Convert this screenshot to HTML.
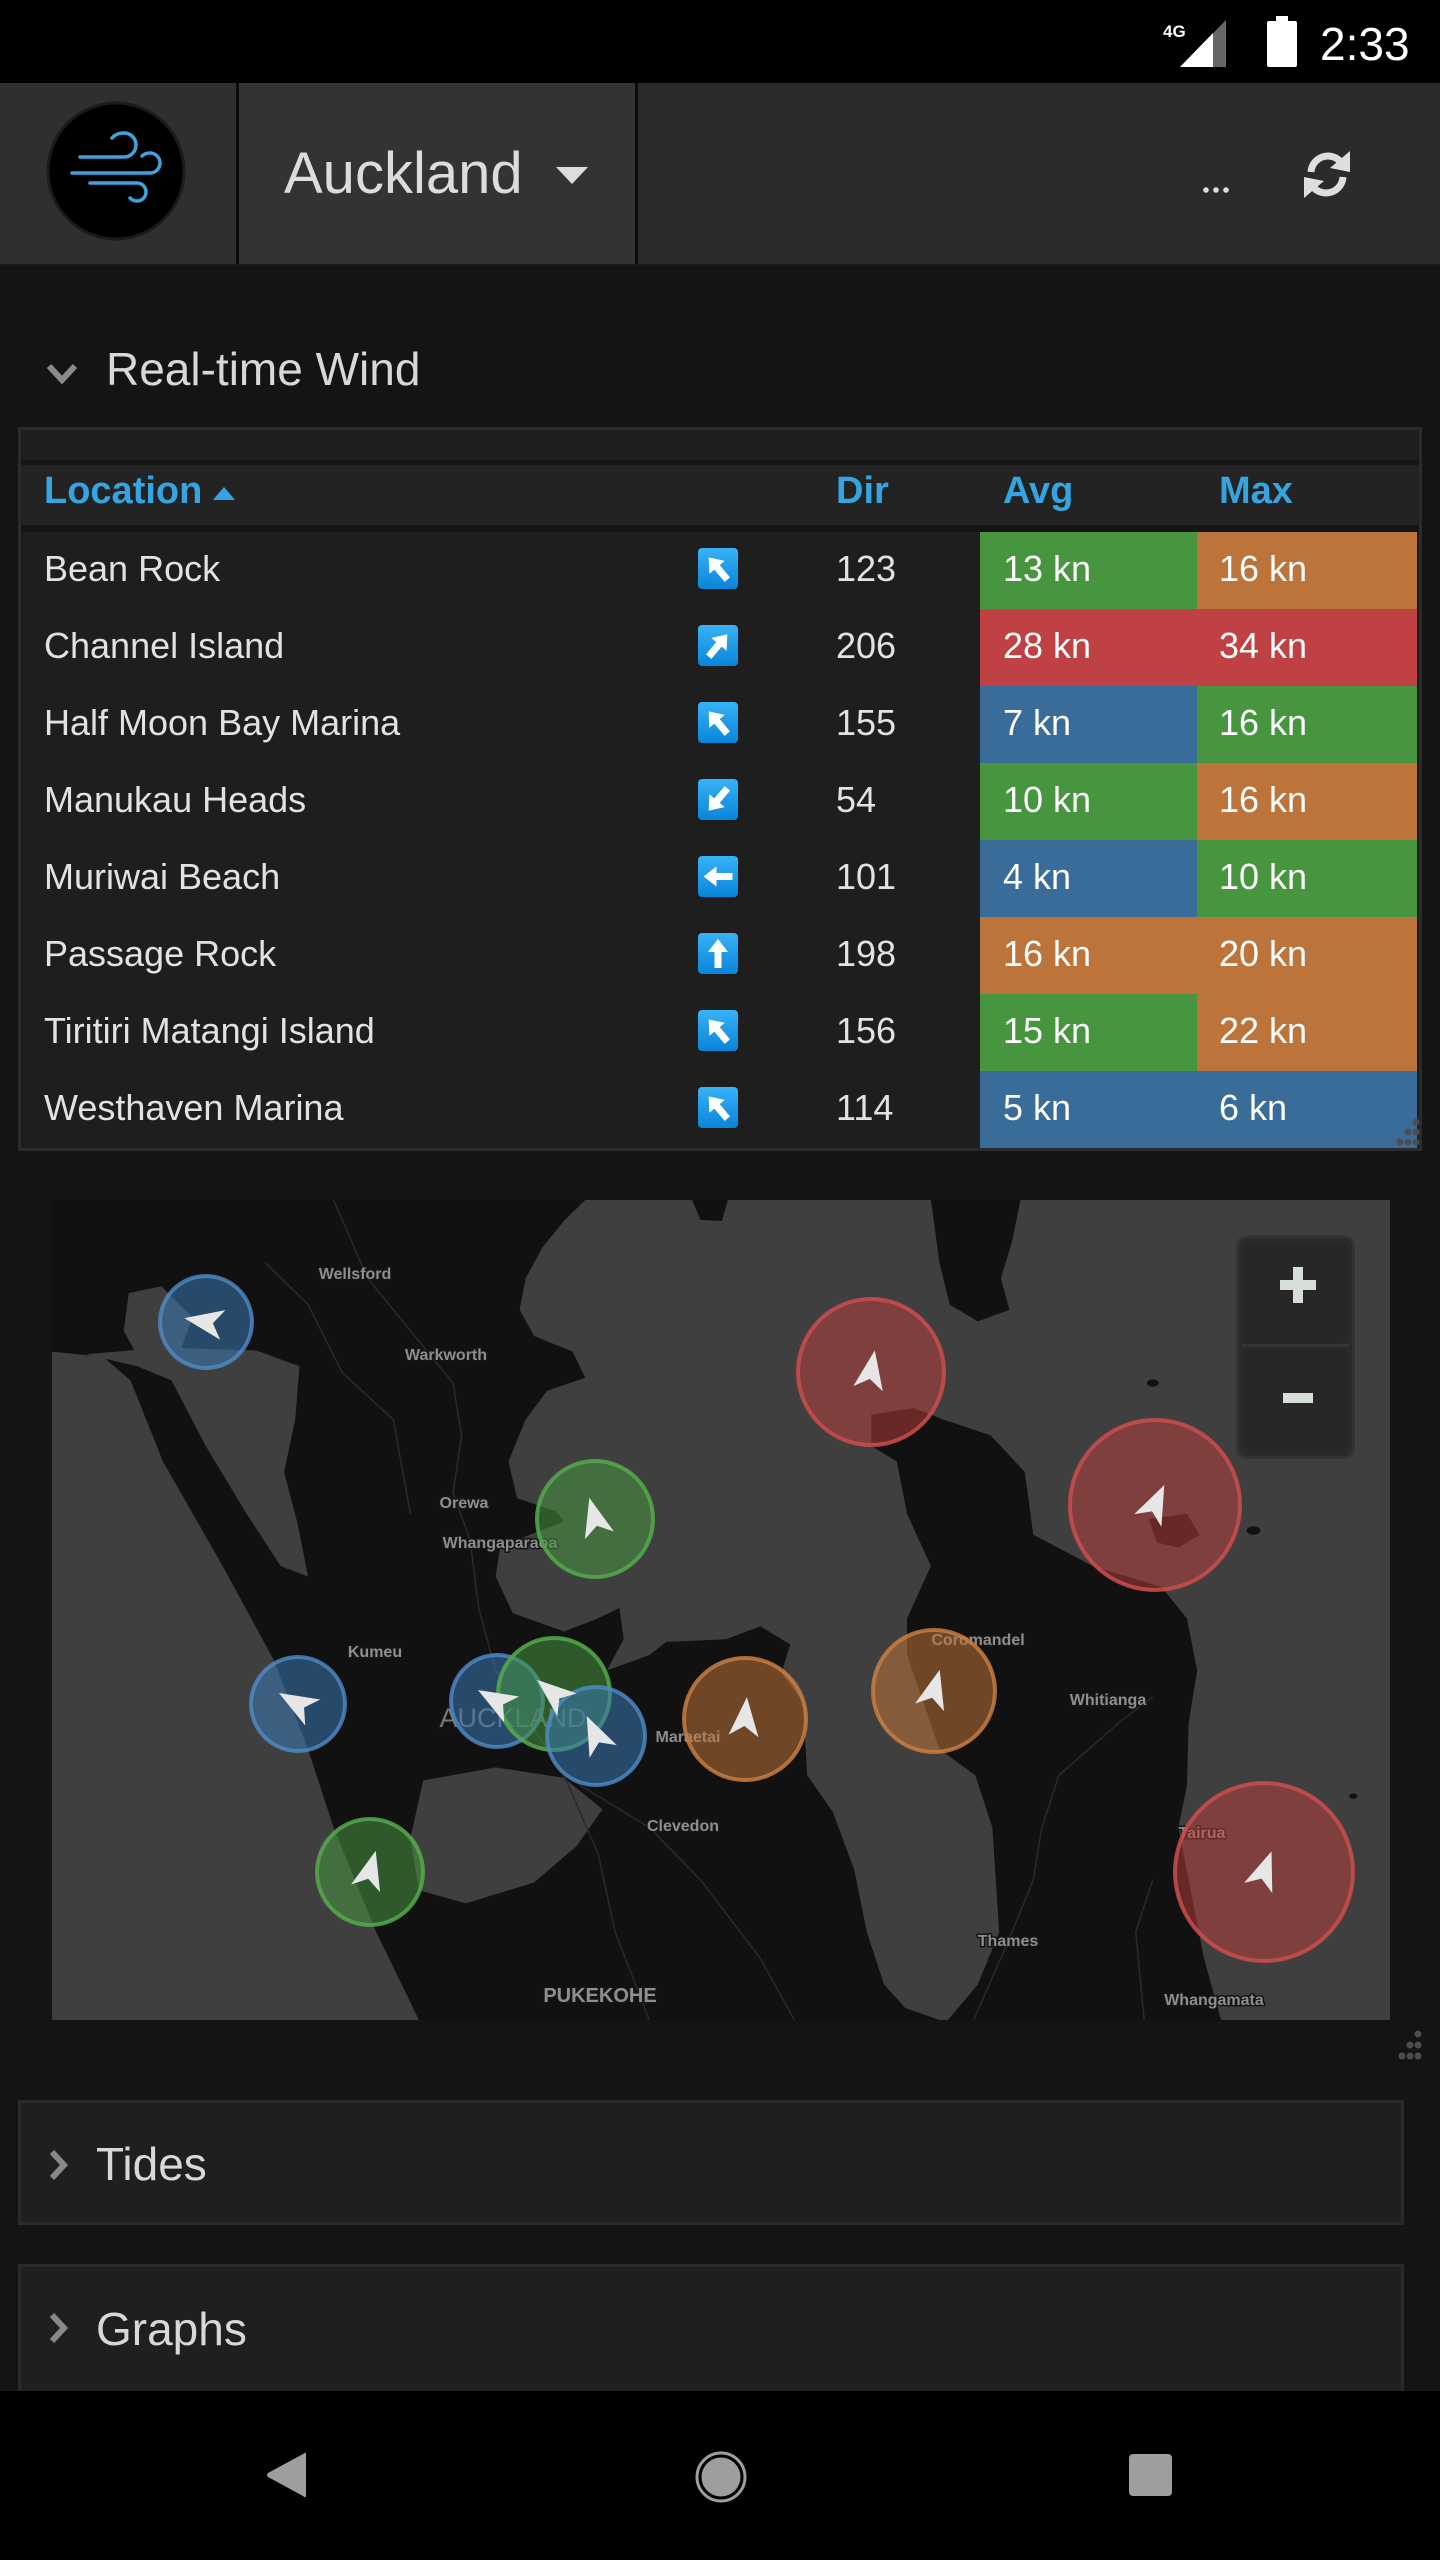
<!DOCTYPE html>
<html><head><meta charset="utf-8"><style>
html,body{margin:0;padding:0;background:#141414;}
svg{display:block;}
</style></head><body>
<svg width="1440" height="2560" viewBox="0 0 1440 2560" xmlns="http://www.w3.org/2000/svg" font-family="'Liberation Sans', sans-serif">
<defs>
<linearGradient id="ib" x1="0" y1="0" x2="0" y2="1"><stop offset="0" stop-color="#38b2f8"/><stop offset="1" stop-color="#0a84d8"/></linearGradient>
</defs>
<rect width="1440" height="2560" fill="#141414"/>

<!-- status bar -->
<rect width="1440" height="83" fill="#000"/>
<text x="1163" y="37" font-size="17" font-weight="bold" fill="#fff">4G</text>
<polygon points="1226,20 1226,67 1180,67" fill="#666"/>
<polygon points="1180,67 1213,33 1213,67" fill="#fff"/>
<rect x="1267" y="21" width="30" height="46" rx="2" fill="#fff"/>
<rect x="1276" y="16" width="12" height="6" fill="#fff"/>
<text x="1320" y="60" font-size="46" fill="#fff">2:33</text>

<!-- header -->
<rect y="83" width="1440" height="183" fill="#2b2b2b"/>
<rect y="83" width="236" height="183" fill="#2f2f2f"/>
<rect x="239" y="83" width="396" height="183" fill="#333"/>
<rect x="236" y="83" width="3" height="183" fill="#0c0c0c"/>
<rect x="635" y="83" width="3" height="183" fill="#0c0c0c"/>
<rect y="264" width="1440" height="2" fill="#1a1a1a"/>
<circle cx="116" cy="171" r="68" fill="#000" stroke="#1b1b1b" stroke-width="3"/>
<g fill="none" stroke="#3ea3de" stroke-width="3.5" stroke-linecap="round">
<path d="M80,157 H124 A12,12 0 0 0 124,133 Q116,133 112,138"/>
<path d="M72,173 H150 A10,10 0 0 0 150,153 Q145,153 142,156"/>
<path d="M90,183 H137 A9,9 0 0 1 137,201 Q133,201 130,198"/>
</g>
<text x="284" y="193" font-size="58" fill="#dcdcdc">Auckland</text>
<polygon points="556,167 588,167 572,184" fill="#ddd"/>
<circle cx="1206" cy="190" r="2.8" fill="#ddd"/>
<circle cx="1216" cy="190" r="2.8" fill="#ddd"/>
<circle cx="1226" cy="190" r="2.8" fill="#ddd"/>
<g fill="none" stroke="#dedede" stroke-width="7">
<path d="M1311,172 A17,17 0 0 1 1340,161"/>
<path d="M1343,177 A17,17 0 0 1 1314,188"/>
</g>
<polygon points="1350,151 1350,172 1330,168" fill="#dedede"/>
<polygon points="1304,198 1304,177 1324,181" fill="#dedede"/>

<!-- section title -->
<polyline points="49,366 62,380 75,366" fill="none" stroke="#8a8a8a" stroke-width="6"/>
<text x="106" y="385" font-size="46" fill="#d8d8d8">Real-time Wind</text>

<!-- table panel -->
<rect x="19.5" y="428.5" width="1401" height="721" fill="#1f1f1f" stroke="#2b2b2b" stroke-width="3"/>
<rect x="21" y="460" width="1398" height="5" fill="#151515"/>
<rect x="21" y="465" width="1398" height="60" fill="#232323"/>
<rect x="21" y="525" width="1398" height="7" fill="#151515"/>
<rect x="21" y="532" width="1398" height="616" fill="#1e1e1e"/>
<g font-size="38" font-weight="bold" fill="#34a5e0">
<text x="44" y="503">Location</text>
<text x="836" y="503">Dir</text>
<text x="1003" y="503">Avg</text>
<text x="1219" y="503">Max</text>
</g>
<polygon points="213,500 235,500 224,487" fill="#34a5e0"/>

<!-- cells -->
<g>
<rect x="980" y="532" width="217" height="77" fill="#47963f"/><rect x="1197" y="532" width="220" height="77" fill="#bd743a"/>
<rect x="980" y="609" width="217" height="77" fill="#bf4143"/><rect x="1197" y="609" width="220" height="77" fill="#bf4143"/>
<rect x="980" y="686" width="217" height="77" fill="#3a6c9a"/><rect x="1197" y="686" width="220" height="77" fill="#47963f"/>
<rect x="980" y="763" width="217" height="77" fill="#47963f"/><rect x="1197" y="763" width="220" height="77" fill="#bd743a"/>
<rect x="980" y="840" width="217" height="77" fill="#3a6c9a"/><rect x="1197" y="840" width="220" height="77" fill="#47963f"/>
<rect x="980" y="917" width="217" height="77" fill="#bd743a"/><rect x="1197" y="917" width="220" height="77" fill="#bd743a"/>
<rect x="980" y="994" width="217" height="77" fill="#47963f"/><rect x="1197" y="994" width="220" height="77" fill="#bd743a"/>
<rect x="980" y="1071" width="217" height="77" fill="#3a6c9a"/><rect x="1197" y="1071" width="220" height="77" fill="#3a6c9a"/>
</g>
<g font-size="36" fill="#e2e2e2">
<text x="44" y="581">Bean Rock</text><text x="836" y="581">123</text>
<text x="44" y="658">Channel Island</text><text x="836" y="658">206</text>
<text x="44" y="735">Half Moon Bay Marina</text><text x="836" y="735">155</text>
<text x="44" y="812">Manukau Heads</text><text x="836" y="812">54</text>
<text x="44" y="889">Muriwai Beach</text><text x="836" y="889">101</text>
<text x="44" y="966">Passage Rock</text><text x="836" y="966">198</text>
<text x="44" y="1043">Tiritiri Matangi Island</text><text x="836" y="1043">156</text>
<text x="44" y="1120">Westhaven Marina</text><text x="836" y="1120">114</text>
</g>
<g font-size="36" fill="#fff">
<text x="1003" y="581">13 kn</text><text x="1219" y="581">16 kn</text>
<text x="1003" y="658">28 kn</text><text x="1219" y="658">34 kn</text>
<text x="1003" y="735">7 kn</text><text x="1219" y="735">16 kn</text>
<text x="1003" y="812">10 kn</text><text x="1219" y="812">16 kn</text>
<text x="1003" y="889">4 kn</text><text x="1219" y="889">10 kn</text>
<text x="1003" y="966">16 kn</text><text x="1219" y="966">20 kn</text>
<text x="1003" y="1043">15 kn</text><text x="1219" y="1043">22 kn</text>
<text x="1003" y="1120">5 kn</text><text x="1219" y="1120">6 kn</text>
</g>
<!-- direction icons -->
<g>
<g transform="translate(698,548)"><rect width="40" height="41" rx="4" fill="url(#ib)"/><polygon transform="rotate(-40 20 20.5)" points="20,6 30,19 23.5,19 23.5,35 16.5,35 16.5,19 10,19" fill="#fff"/></g>
<g transform="translate(698,625)"><rect width="40" height="41" rx="4" fill="url(#ib)"/><polygon transform="rotate(40 20 20.5)" points="20,6 30,19 23.5,19 23.5,35 16.5,35 16.5,19 10,19" fill="#fff"/></g>
<g transform="translate(698,702)"><rect width="40" height="41" rx="4" fill="url(#ib)"/><polygon transform="rotate(-40 20 20.5)" points="20,6 30,19 23.5,19 23.5,35 16.5,35 16.5,19 10,19" fill="#fff"/></g>
<g transform="translate(698,779)"><rect width="40" height="41" rx="4" fill="url(#ib)"/><polygon transform="rotate(-140 20 20.5)" points="20,6 30,19 23.5,19 23.5,35 16.5,35 16.5,19 10,19" fill="#fff"/></g>
<g transform="translate(698,856)"><rect width="40" height="41" rx="4" fill="url(#ib)"/><polygon transform="rotate(-90 20 20.5)" points="20,6 30,19 23.5,19 23.5,35 16.5,35 16.5,19 10,19" fill="#fff"/></g>
<g transform="translate(698,933)"><rect width="40" height="41" rx="4" fill="url(#ib)"/><polygon points="20,6 30,19 23.5,19 23.5,35 16.5,35 16.5,19 10,19" fill="#fff"/></g>
<g transform="translate(698,1010)"><rect width="40" height="41" rx="4" fill="url(#ib)"/><polygon transform="rotate(-40 20 20.5)" points="20,6 30,19 23.5,19 23.5,35 16.5,35 16.5,19 10,19" fill="#fff"/></g>
<g transform="translate(698,1087)"><rect width="40" height="41" rx="4" fill="url(#ib)"/><polygon transform="rotate(-40 20 20.5)" points="20,6 30,19 23.5,19 23.5,35 16.5,35 16.5,19 10,19" fill="#fff"/></g>
</g>
<g fill="#4d4d4d">
<circle cx="1416" cy="1122" r="3.5"/><circle cx="1408" cy="1132" r="3.5"/><circle cx="1416" cy="1132" r="3.5"/>
<circle cx="1400" cy="1142" r="3.5"/><circle cx="1408" cy="1142" r="3.5"/><circle cx="1416" cy="1142" r="3.5"/>
</g>

<!-- map land (traced in stretched coords) -->
<svg x="52" y="1200" width="1338" height="820" viewBox="0 0 1568 1568" preserveAspectRatio="none">
<rect width="1568" height="1568" fill="#3f3f3f"/>
<g fill="#111">
<path d="M0,0 L625,0 L600,40 L575,90 L555,150 L548,210 L565,260 L610,290 L625,340 L580,365 L555,420 L535,500 L545,570 L590,595 L600,615 L560,640 L525,665 L520,720 L540,790 L600,825 L640,800 L665,780 L670,840 L650,900 L700,870 L720,845 L790,840 L830,815 L865,850 L855,905 L880,960 L885,1100 L915,1170 L940,1280 L955,1400 L975,1500 L1000,1545 L1040,1568 L430,1568 L380,1400 L330,1200 L300,1050 L260,880 L200,700 L130,500 L92,345 L60,300 L0,290 Z"/>
<path d="M960,410 L1010,398 L1045,420 L1100,450 L1140,520 L1150,640 L1220,700 L1300,740 L1330,800 L1342,900 L1332,1000 L1330,1120 L1320,1200 L1332,1300 L1350,1450 L1370,1568 L1050,1568 L1085,1500 L1110,1400 L1102,1200 L1082,1100 L1040,1050 L1002,870 L1002,800 L1030,700 L1002,600 L990,500 L960,470 Z"/>
<path d="M1030,0 L1135,0 L1125,80 L1112,150 L1122,210 L1085,232 L1052,200 L1040,120 Z"/>
<path d="M750,0 L792,0 L785,40 L760,38 Z"/>
<path d="M1285,610 L1330,600 L1345,640 L1320,665 L1295,655 Z"/>
<circle cx="1290" cy="350" r="7"/><circle cx="1408" cy="632" r="8"/><circle cx="1525" cy="1140" r="5"/>
</g>
<g fill="#3f3f3f">
<path d="M40,295 L130,282 L240,288 L290,318 L285,420 L272,520 L288,620 L300,720 L268,700 L228,600 L180,470 L140,345 L100,318 Z"/>
<path d="M90,178 L128,165 L165,225 L150,290 L100,298 L84,250 Z"/>
<path d="M435,1110 L520,1085 L600,1105 L645,1165 L615,1235 L565,1305 L485,1345 L430,1320 L420,1220 Z"/>
</g>
<g fill="none" stroke="#2a2a2a" stroke-width="1.5" vector-effect="non-scaling-stroke">
<polyline vector-effect="non-scaling-stroke" points="330,0 370,150 420,250 470,350 480,450 470,560 490,650 500,780 520,900 560,1000 600,1100 640,1250 660,1400 700,1568"/>
<polyline vector-effect="non-scaling-stroke" points="600,1100 700,1200 760,1300 830,1450 870,1568"/>
<polyline vector-effect="non-scaling-stroke" points="1080,1568 1120,1420 1150,1300 1160,1200 1180,1100 1250,1000 1290,950"/>
<polyline vector-effect="non-scaling-stroke" points="1290,1300 1270,1400 1280,1568"/>
<polyline vector-effect="non-scaling-stroke" points="250,120 300,200 340,330 400,420 420,600"/>
</g>
</svg>

<g transform="translate(52,1200)">
<!-- labels -->
<g font-size="16" font-weight="bold" fill="#8e8e8e" text-anchor="middle" stroke="#151515" stroke-width="3" paint-order="stroke">
<text x="303" y="79">Wellsford</text>
<text x="394" y="160">Warkworth</text>
<text x="412" y="308">Orewa</text>
<text x="448" y="348">Whangaparaoa</text>
<text x="323" y="457">Kumeu</text>
<text x="636" y="542">Maraetai</text>
<text x="631" y="631">Clevedon</text>
<text x="926" y="445">Coromandel</text>
<text x="1056" y="505">Whitianga</text>
<text x="956" y="746">Thames</text>
<text x="1150" y="638">Tairua</text>
<text x="1162" y="805">Whangamata</text>
<text x="548" y="802" font-size="20">PUKEKOHE</text>
<text x="461" y="527" font-size="27" font-weight="normal" fill="#777">AUCKLAND</text>
</g>
<!-- markers -->
<g stroke-width="4">
<circle cx="154" cy="122" r="46" fill="rgba(58,120,181,0.55)" stroke="rgba(80,140,200,0.8)"/>
<circle cx="819" cy="172" r="73" fill="rgba(192,64,63,0.5)" stroke="rgba(205,78,78,0.85)"/>
<circle cx="1103" cy="305" r="85" fill="rgba(192,64,63,0.5)" stroke="rgba(205,78,78,0.85)"/>
<circle cx="543" cy="319" r="58" fill="rgba(71,150,63,0.55)" stroke="rgba(85,170,75,0.85)"/>
<circle cx="246" cy="504" r="47" fill="rgba(58,120,181,0.55)" stroke="rgba(80,140,200,0.8)"/>
<circle cx="445" cy="501" r="46" fill="rgba(58,120,181,0.55)" stroke="rgba(80,140,200,0.8)"/>
<circle cx="502" cy="494" r="56" fill="rgba(71,150,63,0.55)" stroke="rgba(85,170,75,0.85)"/>
<circle cx="544" cy="536" r="49" fill="rgba(58,120,181,0.55)" stroke="rgba(80,140,200,0.8)"/>
<circle cx="693" cy="519" r="61" fill="rgba(189,116,58,0.55)" stroke="rgba(200,125,65,0.85)"/>
<circle cx="882" cy="491" r="61" fill="rgba(189,116,58,0.55)" stroke="rgba(200,125,65,0.85)"/>
<circle cx="318" cy="672" r="53" fill="rgba(71,150,63,0.55)" stroke="rgba(85,170,75,0.85)"/>
<circle cx="1212" cy="672" r="89" fill="rgba(192,64,63,0.5)" stroke="rgba(205,78,78,0.85)"/>
</g>
<g fill="#e6e6e6">
<path transform="translate(154,122) rotate(-80)" d="M0,-22 L15,17 L0,7 L-15,17 Z"/>
<path transform="translate(819,172) rotate(10)" d="M0,-22 L15,17 L0,7 L-15,17 Z"/>
<path transform="translate(1103,305) rotate(25)" d="M0,-22 L15,17 L0,7 L-15,17 Z"/>
<path transform="translate(543,319) rotate(-15)" d="M0,-22 L15,17 L0,7 L-15,17 Z"/>
<path transform="translate(246,504) rotate(-60)" d="M0,-22 L15,17 L0,7 L-15,17 Z"/>
<path transform="translate(445,501) rotate(-60)" d="M0,-22 L15,17 L0,7 L-15,17 Z"/>
<path transform="translate(502,494) rotate(-50)" d="M0,-22 L15,17 L0,7 L-15,17 Z"/>
<path transform="translate(544,536) rotate(-25)" d="M0,-22 L15,17 L0,7 L-15,17 Z"/>
<path transform="translate(693,519) rotate(5)" d="M0,-22 L15,17 L0,7 L-15,17 Z"/>
<path transform="translate(882,491) rotate(15)" d="M0,-22 L15,17 L0,7 L-15,17 Z"/>
<path transform="translate(318,672) rotate(15)" d="M0,-22 L15,17 L0,7 L-15,17 Z"/>
<path transform="translate(1212,672) rotate(20)" d="M0,-22 L15,17 L0,7 L-15,17 Z"/>
</g>
<!-- zoom control -->
<rect x="1185.5" y="36.5" width="116" height="221" rx="10" fill="#2a2a2a" stroke="#333" stroke-width="3"/>
<rect x="1192" y="43" width="103" height="101" rx="6" fill="#272727"/>
<rect x="1192" y="147" width="103" height="104" rx="6" fill="#272727"/>
<rect x="1190" y="144" width="107" height="3" fill="#343434"/>
<rect x="1228" y="80" width="36" height="10" fill="#d5dfd7"/>
<rect x="1241" y="67" width="10" height="36" fill="#d5dfd7"/>
<rect x="1231" y="193" width="30" height="10" fill="#d5dfd7"/>
</g>

<g fill="#4d4d4d">
<circle cx="1418" cy="2034" r="3.5"/><circle cx="1410" cy="2045" r="3.5"/><circle cx="1418" cy="2045" r="3.5"/>
<circle cx="1402" cy="2056" r="3.5"/><circle cx="1410" cy="2056" r="3.5"/><circle cx="1418" cy="2056" r="3.5"/>
</g>

<!-- Tides -->
<rect x="19.5" y="2101.5" width="1383" height="122" fill="#1f1f1f" stroke="#2a2a2a" stroke-width="3"/>
<polyline points="52,2152 64,2165 52,2178" fill="none" stroke="#888" stroke-width="6"/>
<text x="96" y="2180" font-size="46" fill="#d8d8d8">Tides</text>
<!-- Graphs -->
<rect x="19.5" y="2265.5" width="1383" height="160" fill="#1f1f1f" stroke="#2a2a2a" stroke-width="3"/>
<polyline points="52,2315 64,2328 52,2341" fill="none" stroke="#888" stroke-width="6"/>
<text x="96" y="2345" font-size="46" fill="#d8d8d8">Graphs</text>

<!-- nav bar -->
<rect y="2391" width="1440" height="169" fill="#000"/>
<path d="M306,2455 L306,2495 Q306,2499 303,2496 L268,2477 Q266,2475 268,2473 L303,2454 Q306,2451 306,2455 Z" fill="#9e9e9e"/>
<circle cx="721" cy="2477" r="24" fill="none" stroke="#9e9e9e" stroke-width="3"/>
<circle cx="721" cy="2477" r="19.5" fill="#9e9e9e"/>
<rect x="1129" y="2454" width="43" height="42" rx="4" fill="#9e9e9e"/>
</svg>
</body></html>
